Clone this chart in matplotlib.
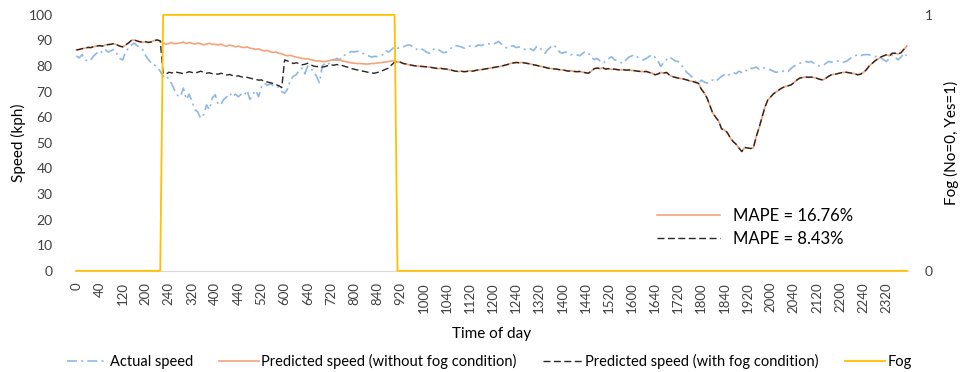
import matplotlib
matplotlib.use('Agg')
import matplotlib.pyplot as plt
from matplotlib.lines import Line2D

plt.rcParams['font.family'] = ['Lato', 'DejaVu Sans']

# Time of day (HHMM), 5-minute steps
time_labels = [h * 100 + m for h in range(24) for m in range(0, 60, 5)]

# Actual speed (kph), one row per hour
actual_speed = [
    84.0, 83.2, 84.5, 82.6, 81.8, 82.5, 84.0, 85.0, 86.0, 85.2, 86.3, 85.5,
    86.0, 86.5, 84.8, 83.0, 82.4, 85.5, 87.0, 88.2, 89.0, 88.0, 87.0, 86.3,
    84.0, 82.4, 81.0, 80.5, 79.5, 78.0, 75.9, 76.5, 74.6, 73.0, 70.5, 68.5,
    68.1, 71.4, 67.0, 69.0, 66.1, 63.0, 62.0, 59.6, 61.0, 64.8, 63.0, 67.5,
    68.8, 65.0, 65.0, 67.0, 68.0, 69.4, 68.0, 69.0, 68.0, 69.0, 68.5, 70.5,
    67.0, 69.0, 70.5, 68.0, 72.0, 73.3, 72.5, 73.0, 72.5, 72.5, 71.5, 70.0,
    69.4, 71.0, 74.6, 76.0, 76.6, 78.5, 79.2, 77.0, 80.0, 79.0, 78.0, 76.0,
    73.5, 80.0, 81.1, 80.5, 82.0, 82.4, 83.0, 82.4, 84.0, 84.4, 85.0, 85.7,
    85.5, 85.8, 85.7, 85.0, 84.5, 84.0, 83.5, 83.8, 83.7, 84.0, 84.5, 86.0,
    85.5, 86.5, 87.6, 87.0, 87.2, 87.5, 88.0, 88.3, 87.8, 87.0, 86.3, 86.8,
    86.3, 85.5, 85.0, 86.0, 87.0, 86.5, 85.8, 85.2, 85.5, 86.5, 87.5, 88.0,
    87.8, 87.5, 87.0, 87.3, 87.8, 88.0, 87.6, 88.3, 88.0, 88.5, 88.8, 88.6,
    88.5, 89.0, 89.6, 88.5, 87.5, 87.0, 87.6, 88.0, 87.2, 87.5, 87.0, 86.5,
    87.0, 86.7, 86.0, 87.5, 87.6, 86.0, 85.0, 86.5, 87.5, 88.3, 87.0, 85.5,
    85.0, 85.5, 85.0, 84.4, 84.8, 84.4, 84.0, 85.0, 85.7, 85.0, 83.5, 82.5,
    83.0, 82.0, 81.1, 82.0, 83.0, 83.6, 82.5, 82.0, 81.5, 81.1, 82.5, 83.5,
    84.0, 84.4, 83.5, 82.8, 82.4, 83.0, 83.8, 84.4, 83.5, 82.0, 79.8, 81.5,
    82.5, 83.6, 82.8, 82.0, 81.8, 80.5, 79.0, 77.5, 76.6, 75.5, 74.0, 73.3,
    74.5, 73.8, 73.3, 74.0, 74.6, 74.0, 75.0, 76.0, 76.6, 76.0, 77.0, 77.5,
    77.0, 78.0, 77.5, 78.5, 78.0, 79.0, 79.2, 79.6, 78.8, 79.5, 79.2, 78.8,
    78.5, 77.9, 77.5, 78.0, 77.9, 78.3, 77.9, 79.0, 80.0, 80.5, 81.1, 81.5,
    81.8, 81.5, 81.8, 81.0, 80.5, 80.0, 80.2, 81.0, 81.8, 81.5, 81.8, 82.0,
    81.8, 81.5, 81.8, 82.5, 83.5, 84.0, 84.4, 84.0, 84.4, 84.5, 84.4, 84.0,
    83.8, 83.6, 83.2, 82.5, 81.8, 83.0, 84.4, 83.5, 82.4, 83.5, 85.0, 84.0,
]

# Predicted speed with fog condition
pred_with_fog = [
    86.3, 86.5, 86.8, 87.0, 87.3, 87.2, 87.6, 87.8, 88.0, 87.8, 88.2, 88.4,
    88.5, 88.8, 88.3, 87.8, 87.5, 88.2, 89.0, 90.0, 90.2, 89.8, 89.5, 89.3,
    89.5, 89.2, 89.5, 90.0, 90.2, 89.8, 77.2, 76.8, 77.6, 77.3, 77.8, 77.5,
    77.3, 77.0, 77.4, 77.8, 77.5, 77.2, 77.6, 78.0, 77.5, 77.2, 77.4, 77.0,
    77.0, 76.8, 77.2, 76.9, 76.5, 76.7, 76.3, 76.0, 76.2, 75.8, 75.5, 75.6,
    75.3, 75.0, 74.8, 74.5, 74.6, 74.0, 73.8, 73.5, 73.2, 72.8, 72.3, 71.6,
    82.4, 82.0, 81.5, 81.0, 81.3, 81.0, 80.5, 80.7, 81.1, 80.5, 80.0, 79.8,
    79.8, 79.6, 79.8, 80.2, 80.5, 80.3, 80.6, 80.4, 80.2, 79.8, 79.5, 79.0,
    78.8, 78.5, 78.3, 78.0, 77.8, 77.5, 77.3, 77.2, 77.5, 77.8, 78.3, 78.8,
    79.2, 80.5, 81.5, 81.6, 81.5, 81.0, 80.8, 80.5, 80.3, 80.1, 80.0, 79.9,
    79.8, 79.7, 79.6, 79.4, 79.2, 79.0, 79.1, 78.9, 78.8, 78.5, 78.3, 78.0,
    77.9, 78.0, 77.8, 77.9, 78.2, 78.0, 78.3, 78.5, 78.6, 78.8, 79.0, 79.2,
    79.4, 79.6, 79.8, 80.0, 80.3, 80.6, 81.0, 81.2, 81.4, 81.3, 81.4, 81.2,
    81.0, 80.8, 80.5, 80.3, 80.0, 79.8, 79.5, 79.2, 79.0, 78.9, 78.8, 78.6,
    78.5, 78.3, 78.0, 78.2, 77.9, 77.8, 77.9, 77.6, 77.4, 77.2, 78.0, 79.0,
    79.2, 79.0, 79.3, 78.8, 79.0, 78.7, 78.8, 78.6, 78.5, 78.6, 78.4, 78.5,
    78.3, 78.2, 78.0, 77.9, 77.8, 77.9, 77.5, 77.2, 76.6, 76.9, 77.5, 77.3,
    77.5, 76.5, 75.9, 75.6, 75.3, 75.1, 74.9, 74.6, 74.2, 74.0, 73.6, 73.3,
    71.0, 69.5, 67.5, 64.5, 61.5, 60.0, 58.5, 55.5, 55.0, 54.0, 52.0, 50.5,
    49.5, 48.0, 46.6, 48.2, 48.0, 47.8, 48.0, 52.5, 56.0, 60.0, 64.0, 66.8,
    68.0, 69.2, 70.0, 70.8, 71.5, 72.0, 72.3, 72.6, 73.5, 74.5, 75.3, 75.5,
    75.7, 75.6, 75.7, 75.5, 75.2, 74.8, 74.6, 75.2, 76.0, 76.6, 76.8, 77.0,
    77.3, 77.5, 77.6, 77.4, 77.2, 77.0, 76.6, 76.8, 77.5, 78.5, 80.0, 81.0,
    82.0, 82.8, 83.5, 84.0, 84.4, 84.0, 85.0, 85.0, 84.7, 85.2, 86.5, 87.8,
]

# Predicted speed without fog condition, differs only from index 29 to 110
nofog_start = 29
pred_without_fog_window = [
    89.8, 89.0, 88.5, 88.8, 89.2, 88.7, 88.9,
    89.0, 89.4, 88.8, 89.2, 88.9, 88.6, 89.0, 88.7, 88.3, 88.6, 88.9, 88.5,
    88.5, 88.2, 88.6, 88.0, 87.8, 88.2, 87.9, 87.5, 87.8, 87.4, 87.2, 87.5,
    87.0, 86.8, 86.5, 86.7, 86.2, 85.9, 86.1, 85.6, 85.3, 85.5, 85.0, 84.8,
    84.3, 84.0, 84.2, 83.8, 83.5, 83.3, 83.0, 82.8, 82.9, 82.5, 82.3, 82.0,
    82.0, 81.8, 81.8, 82.0, 82.3, 82.5, 82.3, 82.4, 82.0, 81.8, 81.5, 81.3,
    81.1, 81.0, 81.0, 80.9, 80.8, 80.8, 81.0, 81.0, 81.2, 81.3, 81.5, 81.6,
    81.8, 82.0, 82.0,
]

# Fog indicator (No=0, Yes=1)
fog = [0] * 30 + [1] * 81 + [0] * 177

pred_without_fog = list(pred_with_fog)
pred_without_fog[nofog_start:nofog_start + len(pred_without_fog_window)] = pred_without_fog_window

x = list(range(len(time_labels)))

c_actual = '#8DB8E3'
c_nofog = '#F4A27A'
c_fog_pred = '#262626'
c_fog = '#FFC000'
txt = '#404040'

fig = plt.figure(figsize=(9.6, 3.72), dpi=100)
ax = fig.add_axes([0.078, 0.272, 0.868, 0.688])

ax.plot(x, actual_speed, color=c_actual, lw=1.2, dashes=(6, 2.5, 1.2, 2.5))
ax.plot(x, pred_without_fog, color=c_nofog, lw=1.2)
ax.plot(x, pred_with_fog, color=c_fog_pred, lw=1.0, dashes=(5, 2.5))

ax.set_ylim(0, 100)
ax.set_yticks(range(0, 101, 10))
ax.set_xlim(-0.5, len(x) - 0.5)
ax.set_xticks(x[::8])
ax.set_xticklabels([str(t) for t in time_labels[::8]], rotation=90, fontsize=9.5, color=txt)
ax.tick_params(axis='y', labelsize=10, length=0, labelcolor=txt, pad=16)
ax.tick_params(axis='x', length=0, pad=8)
for s in ['top', 'right', 'left']:
    ax.spines[s].set_visible(False)
ax.spines['bottom'].set_color('#D9D9D9')
ax.set_ylabel('Speed (kph)', fontsize=11, labelpad=2)
ax.set_xlabel('Time of day', fontsize=11, labelpad=10)

ax2 = ax.twinx()
ax2.plot(x, fog, color=c_fog, lw=1.3, clip_on=False)
ax2.set_ylim(0, 1)
ax2.set_yticks([0, 1])
ax2.tick_params(axis='y', labelsize=10, length=0, labelcolor=txt, pad=12)
for s in ['top', 'right', 'left', 'bottom']:
    ax2.spines[s].set_visible(False)
ax2.set_ylabel('Fog (No=0, Yes=1)', fontsize=11, labelpad=8)

# MAPE legend inside the plot
mape_handles = [Line2D([], [], color=c_nofog, lw=1.2),
                Line2D([], [], color=c_fog_pred, lw=1.0, dashes=(5, 2.5))]
ax2.legend(mape_handles, ['MAPE = 16.76%', 'MAPE = 8.43%'], loc='upper left',
           bbox_to_anchor=(0.68, 0.305), frameon=False, fontsize=12,
           handlelength=3.8, handletextpad=0.8, labelspacing=0.45)

# Series legend at the bottom
handles = [Line2D([], [], color=c_actual, lw=1.2, dashes=(6, 2.5, 1.2, 2.5)),
           Line2D([], [], color=c_nofog, lw=1.2),
           Line2D([], [], color=c_fog_pred, lw=1.0, dashes=(5, 2.5)),
           Line2D([], [], color=c_fog, lw=1.3)]
labels = ['Actual speed', 'Predicted speed (without fog condition)',
          'Predicted speed (with fog condition)', 'Fog']
fig.legend(handles, labels, loc='center', bbox_to_anchor=(0.51, 0.027), ncol=4,
           frameon=False, fontsize=10.5, handlelength=2.7, columnspacing=1.8,
           handletextpad=0.2)

fig.savefig('out.png', dpi=100)
